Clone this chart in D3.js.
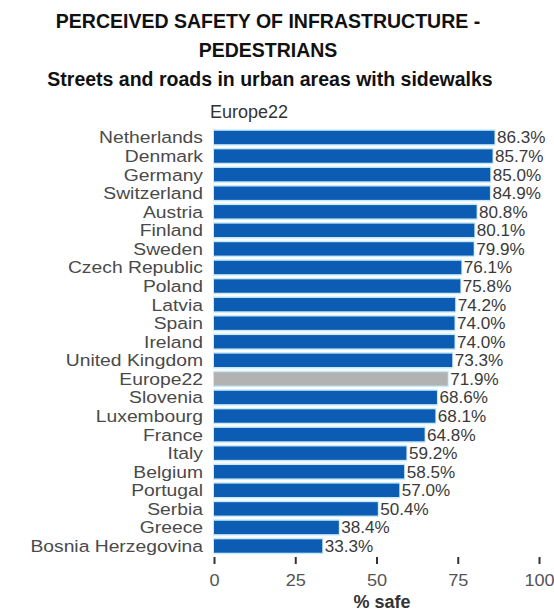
<!DOCTYPE html>
<html>
<head>
<meta charset="utf-8">
<script src="https://cdn.jsdelivr.net/npm/d3@7"></script>
<style>
  html, body { margin: 0; padding: 0; background: #fff; }
  svg { display: block; font-family: "Liberation Sans", Arial, sans-serif; }
</style>
</head>
<body>
<svg id="chart" width="554" height="613"></svg>
<script>
// Share of respondents who feel safe walking on urban streets with sidewalks
const countries = [
  "Netherlands", "Denmark", "Germany", "Switzerland", "Austria", "Finland",
  "Sweden", "Czech Republic", "Poland", "Latvia", "Spain", "Ireland",
  "United Kingdom", "Europe22", "Slovenia", "Luxembourg", "France", "Italy",
  "Belgium", "Portugal", "Serbia", "Greece", "Bosnia Herzegovina"
];
const safePct = [
  86.3, 85.7, 85.0, 84.9, 80.8, 80.1,
  79.9, 76.1, 75.8, 74.2, 74.0, 74.0,
  73.3, 71.9, 68.6, 68.1, 64.8, 59.2,
  58.5, 57.0, 50.4, 38.4, 33.3
];
const xTicks = [0, 25, 50, 75, 100];
const averageName = "Europe22";

const rows = countries.map((c, i) => ({ name: c, value: safePct[i] }));

const svg = d3.select("#chart");

const x = d3.scaleLinear().domain([0, 100]).range([214, 539]);
const y = d3.scaleBand().domain(countries).range([128.2, 555.3]).paddingInner(0.28).paddingOuter(0.14);

// Titles
svg.append("text").attr("x", 268).attr("y", 28).attr("text-anchor", "middle")
  .attr("font-size", 19.5).attr("font-weight", "bold").attr("fill", "#111")
  .text("PERCEIVED SAFETY OF INFRASTRUCTURE -");
svg.append("text").attr("x", 268).attr("y", 57).attr("text-anchor", "middle")
  .attr("font-size", 19.5).attr("font-weight", "bold").attr("fill", "#111")
  .text("PEDESTRIANS");
svg.append("text").attr("x", 270).attr("y", 86).attr("text-anchor", "middle")
  .attr("font-size", 19.5).attr("font-weight", "bold").attr("fill", "#111")
  .text("Streets and roads in urban areas with sidewalks");
svg.append("text").attr("x", 249).attr("y", 118).attr("text-anchor", "middle")
  .attr("font-size", 18).attr("fill", "#333")
  .text("Europe22");

// Soft halo behind bars
svg.append("g").selectAll("rect").data(rows).join("rect")
  .attr("x", x(0) - 1)
  .attr("y", d => y(d.name) - 1.5)
  .attr("width", d => x(d.value) - x(0) + 2)
  .attr("height", y.bandwidth() + 3)
  .attr("fill", "#c6eaf8");

// Bars
svg.append("g").selectAll("rect").data(rows).join("rect")
  .attr("x", x(0))
  .attr("y", d => y(d.name))
  .attr("width", d => x(d.value) - x(0))
  .attr("height", y.bandwidth())
  .attr("fill", d => d.name === averageName ? "#b2b2b2" : "#0b5cb2");

// Category labels (slightly widened face)
svg.append("g").selectAll("text").data(rows).join("text")
  .attr("transform", d => `translate(203,${y(d.name) + y.bandwidth() / 2}) scale(1.17,1)`)
  .attr("dy", "0.36em")
  .attr("text-anchor", "end")
  .attr("font-size", 16.5)
  .attr("fill", "#4a4a4a")
  .text(d => d.name);

// Value labels
svg.append("g").selectAll("text").data(rows).join("text")
  .attr("transform", d => `translate(${x(d.value) + 2.5},${y(d.name) + y.bandwidth() / 2}) scale(1.07,1)`)
  .attr("dy", "0.37em")
  .attr("font-size", 16)
  .attr("fill", "#3a3a3a")
  .text(d => d.value.toFixed(1) + "%");

// X axis: ticks only, no domain line
const axis = svg.append("g")
  .attr("transform", "translate(0,556)")
  .call(d3.axisBottom(x).tickValues(xTicks).tickSize(8).tickPadding(10).tickFormat(d3.format("d")));
axis.select(".domain").remove();
axis.selectAll(".tick line").attr("stroke", "#333").attr("stroke-width", 2).attr("y1", 1);
axis.selectAll(".tick text")
  .attr("font-size", 16.5).attr("fill", "#555")
  .attr("font-family", "Liberation Sans, Arial, sans-serif")
  .attr("transform", "scale(1.1,1)")
  .attr("x", function() { return 0; });

svg.append("text").attr("x", 382).attr("y", 608).attr("text-anchor", "middle")
  .attr("font-size", 18).attr("font-weight", "bold").attr("fill", "#333")
  .text("% safe");
</script>
</body>
</html>
